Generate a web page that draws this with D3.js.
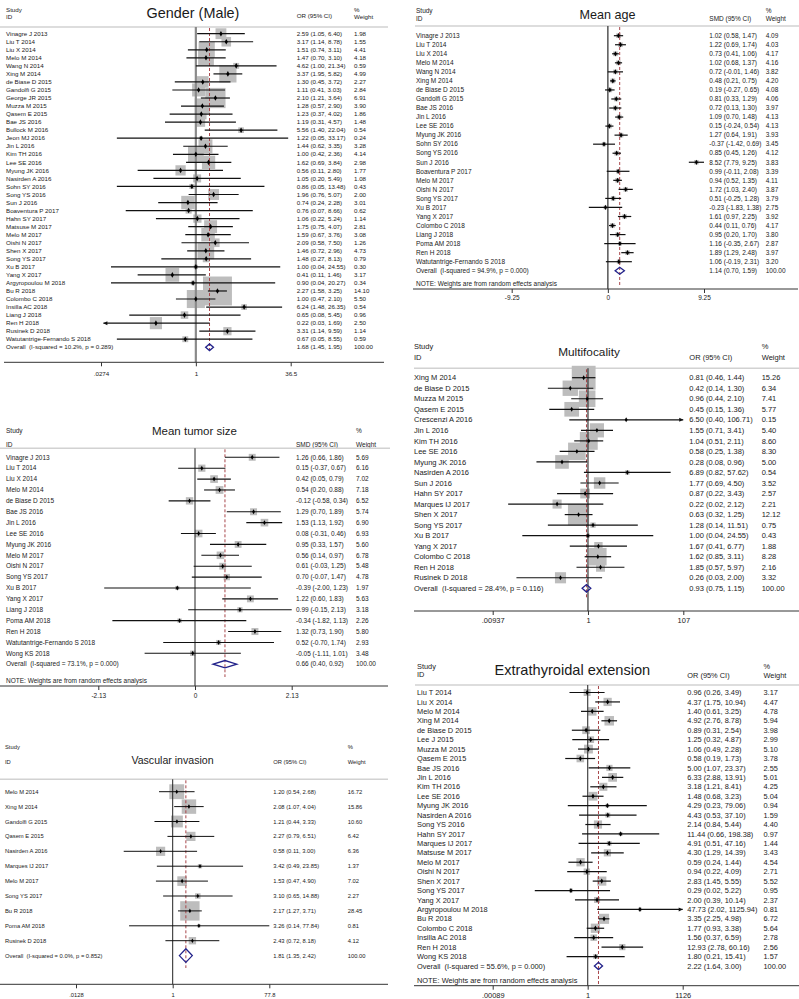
<!DOCTYPE html>
<html><head><meta charset="utf-8">
<script src="https://cdn.jsdelivr.net/npm/d3@7"></script>
<style>
body{margin:0;background:#fff}
svg{display:block;font-family:"Liberation Sans",Arial,Helvetica,sans-serif}
</style>
</head><body>
<svg id="c" width="799" height="999"></svg>
<script>
// ---------------- DATA ----------------
// Gender (Male)
const genderStudies = ["Vinagre J 2013","Liu T 2014","Liu X 2014","Melo M 2014","Wang N 2014","Xing M 2014","de Biase D 2015","Gandolfi G 2015","George JR 2015","Muzza M 2015","Qasem E 2015","Bae JS 2016","Bullock M 2016","Jeon MJ 2016","Jin L 2016","Kim TH 2016","Lee SE 2016","Myung JK 2016","Nasirden A 2016","Sohn SY 2016","Song YS 2016","Sun J 2016","Boaventura P 2017","Hahn SY 2017","Matsuse M 2017","Melo M 2017","Oishi N 2017","Shen X 2017","Song YS 2017","Xu B 2017","Yang X 2017","Argyropoulou M 2018","Bu R 2018","Colombo C 2018","Insilla AC 2018","Liang J 2018","Ren H 2018","Rusinek D 2018","Watutantrige-Fernando S 2018"];
const genderES = [2.59,3.17,1.51,1.47,4.62,3.37,1.30,1.11,2.10,1.28,1.23,1.19,5.56,1.22,1.44,1.00,1.62,0.56,1.05,0.86,1.96,0.74,0.76,1.06,1.75,1.59,2.09,1.46,1.48,1.00,0.41,0.90,2.27,1.00,6.24,0.65,0.22,3.31,0.67];
const genderLo = [1.05,1.14,0.74,0.70,1.00,1.95,0.45,0.41,1.21,0.57,0.37,0.31,1.40,0.05,0.62,0.42,0.69,0.11,0.20,0.05,0.76,0.24,0.07,0.22,0.75,0.67,0.58,0.72,0.27,0.04,0.11,0.04,1.58,0.47,1.48,0.08,0.03,1.14,0.05];
const genderHi = [6.40,8.78,3.11,3.10,21.34,5.82,3.72,3.03,3.64,2.90,4.02,4.57,22.04,33.17,3.35,2.36,3.84,2.80,5.49,13.48,5.07,2.28,8.66,5.24,4.07,3.76,7.50,2.96,8.13,24.55,1.46,20.27,3.25,2.10,26.35,5.45,1.69,9.59,8.55];
const genderWeight = [1.98,1.55,4.41,4.18,0.59,4.99,2.27,2.84,6.91,3.90,1.86,1.48,0.54,0.24,3.28,4.14,2.98,1.77,1.08,0.43,2.00,3.01,0.62,1.14,2.81,3.08,1.26,4.73,0.79,0.30,3.17,0.34,14.10,5.50,0.54,0.96,2.50,1.14,0.59];
const genderOverall = [1.68,1.45,1.95];
const genderHet = "I-squared = 10.2%, p = 0.289";
const genderTicks = [0.0274,1,36.5];
const genderTickLabels = [".0274","1","36.5"];
const genderArrows = ["Ren H 2018"];

// Mean age
const ageStudies = ["Vinagre J 2013","Liu T 2014","Liu X 2014","Melo M 2014","Wang N 2014","Xing M 2014","de Biase D 2015","Gandolfi G 2015","Bae JS 2016","Jin L 2016","Lee SE 2016","Myung JK 2016","Sohn SY 2016","Song YS 2016","Sun J 2016","Boaventura P 2017","Melo M 2017","Oishi N 2017","Song YS 2017","Xu B 2017","Yang X 2017","Colombo C 2018","Liang J 2018","Poma AM 2018","Ren H 2018","Watutantrige-Fernando S 2018"];
const ageES = [1.02,1.22,0.73,1.02,0.72,0.48,0.19,0.81,0.72,1.09,0.15,1.27,-0.37,0.85,8.52,0.99,0.94,1.72,0.51,-0.23,1.61,0.44,0.95,1.16,1.89,1.06];
const ageLo = [0.58,0.69,0.41,0.68,-0.01,0.21,-0.27,0.33,0.13,0.70,-0.24,0.64,-1.42,0.45,7.79,-0.11,0.52,1.03,-0.25,-1.83,0.97,0.11,0.20,-0.35,1.29,-0.19];
const ageHi = [1.47,1.74,1.06,1.37,1.46,0.75,0.65,1.29,1.30,1.48,0.54,1.91,0.69,1.26,9.25,2.08,1.35,2.40,1.28,1.38,2.25,0.76,1.70,2.67,2.48,2.31];
const ageWeight = [4.09,4.03,4.17,4.16,3.82,4.20,4.08,4.06,3.97,4.13,4.13,3.93,3.45,4.12,3.83,3.39,4.11,3.87,3.79,2.75,3.92,4.17,3.80,2.87,3.97,3.20];
const ageOverall = [1.14,0.70,1.59];
const ageHet = "I-squared = 94.9%, p = 0.000";
const ageTicks = [-9.25,0,9.25];
const ageTickLabels = ["-9.25","0","9.25"];

// Mean tumor size
const sizeStudies = ["Vinagre J 2013","Liu T 2014","Liu X 2014","Melo M 2014","de Biase D 2015","Bae JS 2016","Jin L 2016","Lee SE 2016","Myung JK 2016","Melo M 2017","Oishi N 2017","Song YS 2017","Xu B 2017","Yang X 2017","Liang J 2018","Poma AM 2018","Ren H 2018","Watutantrige-Fernando S 2018","Wong KS 2018"];
const sizeES = [1.26,0.15,0.42,0.54,-0.12,1.29,1.53,0.08,0.95,0.56,0.61,0.70,-0.39,1.22,0.99,-0.34,1.32,0.52,-0.05];
const sizeLo = [0.66,-0.37,0.05,0.20,-0.58,0.70,1.13,-0.31,0.33,0.14,-0.03,-0.07,-2.00,0.60,-0.15,-1.82,0.73,-0.70,-1.11];
const sizeHi = [1.86,0.67,0.79,0.88,0.34,1.89,1.92,0.46,1.57,0.97,1.25,1.47,1.23,1.83,2.13,1.13,1.90,1.74,1.01];
const sizeWeight = [5.69,6.16,7.02,7.18,6.52,5.74,6.90,6.93,5.60,6.78,5.48,4.78,1.97,5.63,3.18,2.26,5.80,2.93,3.48];
const sizeOverall = [0.66,0.40,0.92];
const sizeHet = "I-squared = 73.1%, p = 0.000";
const sizeTicks = [-2.13,0,2.13];
const sizeTickLabels = ["-2.13","0","2.13"];

// Multifocality
const multiStudies = ["Xing M 2014","de Biase D 2015","Muzza M 2015","Qasem E 2015","Crescenzi A 2016","Jin L 2016","Kim TH 2016","Lee SE 2016","Myung JK 2016","Nasirden A 2016","Sun J 2016","Hahn SY 2017","Marques IJ 2017","Shen X 2017","Song YS 2017","Xu B 2017","Yang X 2017","Colombo C 2018","Ren H 2018","Rusinek D 2018"];
const multiES = [0.81,0.42,0.96,0.45,6.50,1.55,1.04,0.58,0.28,6.89,1.77,0.87,0.22,0.63,1.28,1.00,1.67,1.62,1.85,0.26];
const multiLo = [0.46,0.14,0.44,0.15,0.40,0.71,0.51,0.25,0.08,0.82,0.69,0.22,0.02,0.32,0.14,0.04,0.41,0.85,0.57,0.03];
const multiHi = [1.44,1.30,2.10,1.36,106.71,3.41,2.11,1.38,0.96,57.62,4.50,3.43,2.12,1.25,11.51,24.55,6.77,3.11,5.97,2.00];
const multiWeight = [15.26,6.34,7.41,5.77,0.15,5.40,8.60,8.30,5.00,0.54,3.52,2.57,2.21,12.12,0.75,0.43,1.88,8.28,2.16,3.32];
const multiOverall = [0.93,0.75,1.15];
const multiHet = "I-squared = 28.4%, p = 0.116";
const multiTicks = [0.00937,1,107];
const multiTickLabels = [".00937","1","107"];
const multiArrows = ["Crescenzi A 2016"];

// Vascular invasion
const vascStudies = ["Melo M 2014","Xing M 2014","Gandolfi G 2015","Qasem E 2015","Nasirden A 2016","Marques IJ 2017","Melo M 2017","Song YS 2017","Bu R 2018","Poma AM 2018","Rusinek D 2018"];
const vascES = [1.20,2.08,1.21,2.27,0.58,3.42,1.53,3.10,2.17,3.26,2.43];
const vascLo = [0.54,1.07,0.44,0.79,0.11,0.49,0.47,0.65,1.27,0.14,0.72];
const vascHi = [2.68,4.04,3.33,6.51,3.00,23.85,4.90,14.88,3.71,77.84,8.18];
const vascWeight = [16.72,15.86,10.60,6.42,6.36,1.37,7.02,2.27,28.45,0.81,4.12];
const vascOverall = [1.81,1.35,2.42];
const vascHet = "I-squared = 0.0%, p = 0.852";
const vascTicks = [0.0128,1,77.8];
const vascTickLabels = [".0128","1","77.8"];

// Extrathyroidal extension
const eteStudies = ["Liu T 2014","Liu X 2014","Melo M 2014","Xing M 2014","de Biase D 2015","Lee J 2015","Muzza M 2015","Qasem E 2015","Bae JS 2016","Jin L 2016","Kim TH 2016","Lee SE 2016","Myung JK 2016","Nasirden A 2016","Song YS 2016","Hahn SY 2017","Marques IJ 2017","Matsuse M 2017","Melo M 2017","Oishi N 2017","Shen X 2017","Song YS 2017","Yang X 2017","Argyropoulou M 2018","Bu R 2018","Colombo C 2018","Insilla AC 2018","Ren H 2018","Wong KS 2018"];
const eteES = [0.96,4.37,1.40,4.92,0.89,1.25,1.06,0.58,5.00,6.33,3.18,1.48,4.29,4.43,2.14,11.44,4.91,4.30,0.59,0.94,2.83,0.29,2.00,47.73,3.35,1.77,1.56,12.93,1.80];
const eteLo = [0.26,1.75,0.61,2.76,0.31,0.32,0.49,0.19,1.07,2.88,1.21,0.68,0.23,0.53,0.84,0.66,0.51,1.29,0.24,0.22,1.45,0.02,0.39,2.02,2.25,0.93,0.37,2.78,0.21];
const eteHi = [3.49,10.94,3.25,8.78,2.54,4.87,2.28,1.73,23.37,13.91,8.41,3.23,79.06,37.10,5.44,198.38,47.16,14.39,1.44,4.09,5.55,5.22,10.14,1125.94,4.98,3.38,6.59,60.16,15.41];
const eteWeight = [3.17,4.47,4.78,5.94,3.98,2.99,5.10,3.78,2.55,5.01,4.25,5.04,0.94,1.59,4.40,0.97,1.44,3.43,4.54,2.71,5.52,0.95,2.37,0.81,6.72,5.64,2.78,2.56,1.57];
const eteOverall = [2.22,1.64,3.00];
const eteHet = "I-squared = 55.6%, p = 0.000";
const eteTicks = [0.00089,1,1126];
const eteTickLabels = [".00089","1","1126"];
const eteArrows = ["Argyropoulou M 2018"];

const noteText = "NOTE: Weights are from random effects analysis";

// ---------------- DRAWING ----------------
const svg = d3.select("#c");
const f2 = v => v.toFixed(2);

function drawPanel(d, L) {
  const g = svg.append("g");
  const x = (d.log ? d3.scaleLog() : d3.scaleLinear())
      .domain([d.ticks[0], d.ticks[2]]).range([L.tx0, L.tx1]);
  const y = d3.scaleLinear().domain([0, 1]).range([L.row0, L.row0 + L.step]);
  const n = d.studies.length;
  const txt = (px, py, s, fs, anchor) => g.append("text")
      .attr("x", px).attr("y", py).attr("dy", "0.35em")
      .attr("font-size", fs).attr("fill", "#1a1a1a")
      .attr("text-anchor", anchor || "start")
      .style("white-space", "pre").text(s);

  // header
  txt(L.x0, L.studyY, "Study", L.fs);
  txt(L.x0, L.idY, "ID", L.fs);
  txt(L.titleX, L.titleY, d.title, L.titleFs, "middle");
  txt(L.colX, L.colHeadY, d.measure + " (95% CI)", L.fs);
  txt(L.wX, L.pctY, "%", L.fs);
  txt(L.wX, L.weightY, "Weight", L.fs);
  g.append("line").attr("x1", L.sepX1).attr("x2", L.sepX2)
    .attr("y1", L.sepY).attr("y2", L.sepY)
    .attr("stroke", "#d2d2d2").attr("stroke-width", 1.6);

  // boxes
  g.selectAll("rect.box").data(d.studies).join("rect").attr("class", "box")
    .attr("x", (s, i) => x(d.es[i]) - L.boxK * Math.sqrt(d.w[i]) / 2)
    .attr("y", (s, i) => y(i) - L.boxK * Math.sqrt(d.w[i]) / 2)
    .attr("width", (s, i) => L.boxK * Math.sqrt(d.w[i]))
    .attr("height", (s, i) => L.boxK * Math.sqrt(d.w[i]))
    .attr("fill", "#bdbdbd");

  // null line
  g.append("line").attr("x1", x(d.ticks[1])).attr("x2", x(d.ticks[1]))
    .attr("y1", L.sepY).attr("y2", L.axisY)
    .attr("stroke", L.nullColor).attr("stroke-width", L.nullW);

  // overall dashed line
  g.append("line").attr("x1", x(d.overall[0])).attr("x2", x(d.overall[0]))
    .attr("y1", L.sepY + 1).attr("y2", L.dashEnd)
    .attr("stroke", "#a8464a").attr("stroke-width", 1)
    .attr("stroke-dasharray", "3,2");

  // CI lines
  d.studies.forEach((s, i) => {
    const yy = y(i);
    g.append("line").attr("x1", x(d.lo[i])).attr("x2", x(d.hi[i]))
      .attr("y1", yy).attr("y2", yy).attr("stroke", "#111").attr("stroke-width", L.ciW);
    if (d.arrows && d.arrows.includes(s)) {
      const leftSide = Math.abs(Math.log(d.lo[i] / d.ticks[0])) < Math.abs(Math.log(d.hi[i] / d.ticks[2]));
      const ax = leftSide ? x(d.lo[i]) : x(d.hi[i]);
      const dir = leftSide ? 1 : -1;
      g.append("path")
        .attr("d", `M${ax},${yy} L${ax + dir * 4},${yy - 2} L${ax + dir * 4},${yy + 2} Z`)
        .attr("fill", "#111");
    }
    g.append("path").attr("d", d3.symbol().type(d3.symbolDiamond).size(L.ptSize)())
      .attr("transform", `translate(${x(d.es[i])},${yy})`).attr("fill", "#000");
    txt(L.x0, yy, s, L.fs);
    txt(L.colX, yy, `${f2(d.es[i])} (${f2(d.lo[i])}, ${f2(d.hi[i])})`, L.fs);
    txt(L.wX, yy, f2(d.w[i]), L.fs);
  });

  // overall
  const yo = y(n);
  const [oe, ol, oh] = d.overall;
  g.append("path")
    .attr("d", `M${x(ol)},${yo} L${x(oe)},${yo - L.diaH} L${x(oh)},${yo} L${x(oe)},${yo + L.diaH} Z`)
    .attr("fill", "none").attr("stroke", "#22228a").attr("stroke-width", 1.3);
  txt(L.x0, yo, `Overall  (${d.het})`, L.fs);
  txt(L.colX, yo, `${f2(oe)} (${f2(ol)}, ${f2(oh)})`, L.fs);
  txt(L.wX, yo, "100.00", L.fs);

  if (L.noteY) txt(L.x0, L.noteY, noteText, L.fs);

  // axis
  const axis = g.append("g").attr("transform", `translate(0,${L.axisY})`)
    .call(d3.axisBottom(x).tickValues(d.ticks)
      .tickFormat((v, i) => d.tickLabels[i]).tickSize(4).tickSizeOuter(0));
  axis.select(".domain").remove();
  axis.attr("font-size", L.fs).attr("font-family", null);
  axis.selectAll(".tick line").attr("stroke", "#333");
  axis.selectAll(".tick text").attr("y", L.tickLabY - L.axisY).attr("dy", "0.35em").attr("fill", "#1a1a1a");
  g.append("line").attr("x1", L.axisX1).attr("x2", L.axisX2)
    .attr("y1", L.axisY).attr("y2", L.axisY).attr("stroke", "#333").attr("stroke-width", 1);
}

drawPanel(
  {title: "Gender (Male)", measure: "OR", log: true, studies: genderStudies, es: genderES, lo: genderLo, hi: genderHi, w: genderWeight,
   overall: genderOverall, het: genderHet, ticks: genderTicks, tickLabels: genderTickLabels, arrows: genderArrows},
  {x0: 6, colX: 296.7, wX: 354, studyY: 10, idY: 16.5, titleX: 193, titleY: 13.3, titleFs: 14.4, colHeadY: 15.7, pctY: 9.5, weightY: 16.5,
   sepY: 27, sepX1: 0, sepX2: 388, row0: 33.7, step: 8.04, fs: 6.2, tx0: 101, tx1: 290.7, axisY: 362.3, axisX1: 4, axisX2: 384,
   tickLabY: 374, boxK: 7.7, diaH: 3.3, dashEnd: 352, nullColor: "#8a8a8a", nullW: 2.2, ciW: 1.2, ptSize: 9});

drawPanel(
  {title: "Mean age", measure: "SMD", log: false, studies: ageStudies, es: ageES, lo: ageLo, hi: ageHi, w: ageWeight,
   overall: ageOverall, het: ageHet, ticks: ageTicks, tickLabels: ageTickLabels, arrows: []},
  {x0: 416, colX: 709.3, wX: 765.7, studyY: 10.7, idY: 19, titleX: 607.5, titleY: 15, titleFs: 12.6, colHeadY: 19, pctY: 10.7, weightY: 19,
   sepY: 26, sepX1: 415, sepX2: 799, row0: 35.7, step: 9.04, fs: 6.5, tx0: 511.7, tx1: 704, axisY: 289, axisX1: 413, axisX2: 798,
   tickLabY: 298, boxK: 2.3, diaH: 3.5, dashEnd: 286, noteY: 283.7, nullColor: "#555", nullW: 1.5, ciW: 1.2, ptSize: 8});

drawPanel(
  {title: "Mean tumor size", measure: "SMD", log: false, studies: sizeStudies, es: sizeES, lo: sizeLo, hi: sizeHi, w: sizeWeight,
   overall: sizeOverall, het: sizeHet, ticks: sizeTicks, tickLabels: sizeTickLabels, arrows: []},
  {x0: 6, colX: 296, wX: 356, studyY: 431, idY: 444.7, titleX: 194.5, titleY: 431, titleFs: 11.5, colHeadY: 444.7, pctY: 431, weightY: 444.7,
   sepY: 448.3, sepX1: 0, sepX2: 390, row0: 457.3, step: 10.89, fs: 6.5, tx0: 98.3, tx1: 291.7, axisY: 686, axisX1: 0, axisX2: 388,
   tickLabY: 696, boxK: 2.9, diaH: 3.7, dashEnd: 677, noteY: 680.7, nullColor: "#222", nullW: 1, ciW: 1.1, ptSize: 7});

drawPanel(
  {title: "Multifocality", measure: "OR", log: true, studies: multiStudies, es: multiES, lo: multiLo, hi: multiHi, w: multiWeight,
   overall: multiOverall, het: multiHet, ticks: multiTicks, tickLabels: multiTickLabels, arrows: multiArrows},
  {x0: 414, colX: 689.3, wX: 761.7, studyY: 346.7, idY: 357.7, titleX: 589, titleY: 351.7, titleFs: 11.8, colHeadY: 357.7, pctY: 346.7, weightY: 357.7,
   sepY: 368.3, sepX1: 414, sepX2: 799, row0: 377.7, step: 10.53, fs: 7.5, tx0: 492.7, tx1: 683.3, axisY: 611, axisX1: 414, axisX2: 799,
   tickLabY: 620, boxK: 6.1, diaH: 3.8, dashEnd: 598, nullColor: "#333", nullW: 1.2, ciW: 1.2, ptSize: 7});

drawPanel(
  {title: "Vascular invasion", measure: "OR", log: true, studies: vascStudies, es: vascES, lo: vascLo, hi: vascHi, w: vascWeight,
   overall: vascOverall, het: vascHet, ticks: vascTicks, tickLabels: vascTickLabels, arrows: []},
  {x0: 5, colX: 273.3, wX: 347.7, studyY: 747.3, idY: 761.7, titleX: 172.5, titleY: 760, titleFs: 10.6, colHeadY: 761.7, pctY: 747.3, weightY: 761.7,
   sepY: 779.3, sepX1: 0, sepX2: 388, row0: 791.7, step: 14.9, fs: 5.8, tx0: 76, tx1: 269.3, axisY: 984.3, axisX1: 0, axisX2: 388,
   tickLabY: 995, boxK: 3.63, diaH: 6.8, dashEnd: 968, nullColor: "#222", nullW: 1, ciW: 1, ptSize: 6});

drawPanel(
  {title: "Extrathyroidal extension", measure: "OR", log: true, studies: eteStudies, es: eteES, lo: eteLo, hi: eteHi, w: eteWeight,
   overall: eteOverall, het: eteHet, ticks: eteTicks, tickLabels: eteTickLabels, arrows: eteArrows},
  {x0: 417, colX: 687.3, wX: 763.5, studyY: 666.7, idY: 674.5, titleX: 572.3, titleY: 670, titleFs: 14.6, colHeadY: 675, pctY: 666.7, weightY: 675,
   sepY: 685, sepX1: 415, sepX2: 799, row0: 692.5, step: 9.43, fs: 7.4, tx0: 492.7, tx1: 682.7, axisY: 985.7, axisX1: 414, axisX2: 799,
   tickLabY: 995, boxK: 3.9, diaH: 3.6, dashEnd: 984, noteY: 980.7, nullColor: "#444", nullW: 1.2, ciW: 1.2, ptSize: 8});
</script>
</body></html>
